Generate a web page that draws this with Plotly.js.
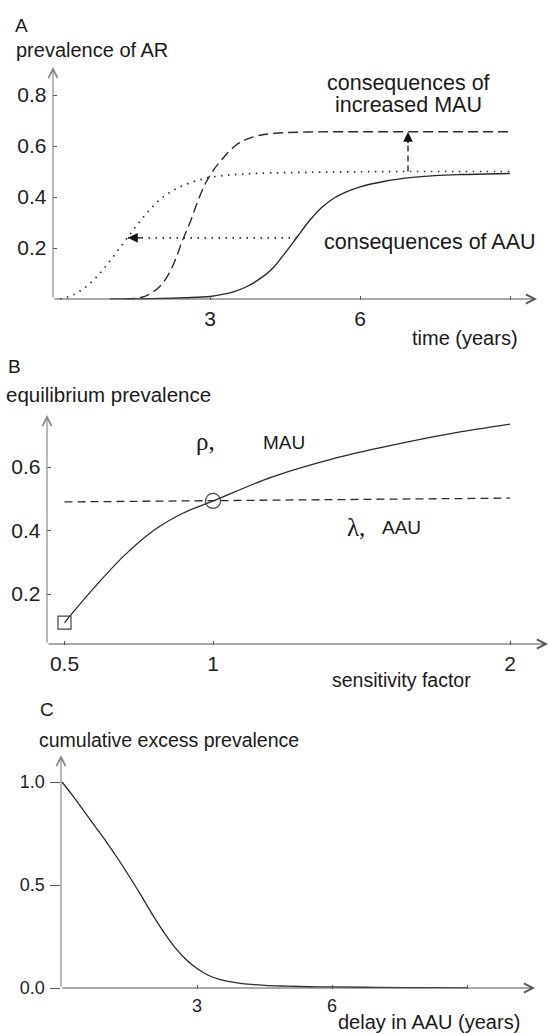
<!DOCTYPE html>
<html><head><meta charset="utf-8">
<script src="https://cdn.plot.ly/plotly-3.0.1.min.js"></script>
<style>html,body{margin:0;padding:0;background:#fff}#chart{width:551px;height:1034px}</style>
</head><body><div id="chart"></div>
<script>
// ---------- Panel A: prevalence of AR over time ----------
const timeSolid  = [1.0, 2.0, 2.5, 3.0, 3.25, 3.5, 3.75, 4.0, 4.25, 4.5, 4.75, 5.0, 5.25, 5.5, 5.75, 6.0, 6.5, 7.0, 7.5, 8.0, 8.5, 9.0];
const prevSolid  = [0.0, 0.002, 0.005, 0.01, 0.018, 0.03, 0.05, 0.08, 0.12, 0.18, 0.245, 0.31, 0.362, 0.398, 0.422, 0.44, 0.462, 0.476, 0.484, 0.488, 0.49, 0.492];
const timeDashed = [1.3, 1.6, 1.8, 2.0, 2.15, 2.3, 2.45, 2.6, 2.75, 2.9, 3.05, 3.25, 3.5, 3.75, 4.0, 4.3, 5.0, 6.0, 7.0, 8.0, 9.0];
const prevDashed = [0.0, 0.005, 0.02, 0.05, 0.09, 0.15, 0.23, 0.30, 0.38, 0.45, 0.50, 0.55, 0.60, 0.628, 0.642, 0.65, 0.655, 0.656, 0.656, 0.656, 0.656];
const timeDotted = [0, 0.25, 0.5, 0.75, 1.0, 1.25, 1.5, 1.75, 2.0, 2.25, 2.5, 2.75, 3.0, 3.5, 4.0, 5.0, 6.0, 7.0, 8.0, 9.0];
const prevDotted = [0, 0.015, 0.045, 0.09, 0.15, 0.215, 0.28, 0.34, 0.39, 0.425, 0.448, 0.465, 0.477, 0.488, 0.493, 0.497, 0.499, 0.5, 0.5, 0.5];
const arrowAAUx = [4.74, 1.36];
const arrowAAUy = [0.24, 0.24];
const arrowMAUx = [6.96, 6.96];
const arrowMAUy = [0.5, 0.655];
const ticksAx = [3, 6, 9];
const labelsAx = ['3', '6', ''];
const ticksAy = [0.2, 0.4, 0.6, 0.8];
const labelsAy = ['0.2', '0.4', '0.6', '0.8'];

// ---------- Panel B: equilibrium prevalence vs sensitivity factor ----------
const sensFactor = [0.5, 0.6, 0.7, 0.8, 0.9, 1.0, 1.2, 1.4, 1.6, 1.8, 2.0];
const rhoMAU     = [0.11, 0.22, 0.32, 0.40, 0.455, 0.493, 0.569, 0.625, 0.668, 0.705, 0.735];
const sensLambda = [0.5, 2.0];
const lambdaAAU  = [0.49, 0.502];
const squareX = [0.5];
const squareY = [0.11];
const circleX = [1.0];
const circleY = [0.493];
const ticksBx = [0.5, 1, 2];
const labelsBx = ['0.5', '1', '2'];
const ticksBy = [0.2, 0.4, 0.6];
const labelsBy = ['0.2', '0.4', '0.6'];

// ---------- Panel C: cumulative excess prevalence vs delay ----------
const delayAAU = [0, 0.25, 0.5, 0.75, 1.0, 1.25, 1.5, 1.75, 2.0, 2.25, 2.5, 2.75, 3.0, 3.25, 3.5, 3.75, 4.0, 4.5, 5.0, 5.5, 6.0, 7.0, 8.0, 9.0];
const cumExcess = [1.0, 0.93, 0.855, 0.78, 0.705, 0.625, 0.54, 0.452, 0.36, 0.275, 0.20, 0.14, 0.095, 0.062, 0.042, 0.03, 0.021, 0.013, 0.009, 0.006, 0.005, 0.003, 0.002, 0.001];
const ticksCx = [3, 6, 9];
const labelsCx = ['3', '6', ''];
const ticksCy = [0, 0.5, 1.0];
const labelsCy = ['0.0', '0.5', '1.0'];

// ---------- geometry helpers (pixel layout) ----------
const W = 551, H = 1034;
const PX = v => v / W;
const PY = v => 1 - v / H;
const FONT = 'Liberation Sans, Arial, sans-serif';
const INK = '#2b2b2b';
const AXC = '#555';
const AXY = '#8a8a8a';

const G = {
  A: {left: 52.5, right: 551, top: 55, bottom: 299.5, x0: 60, xv0: 0, xs: 50, y0: 299, ys: 255},
  B: {left: 46.5, right: 551, top: 400, bottom: 644.5, x0: 64.5, xv0: 0.5, xs: 297, y0: 657.5, ys: 317.5},
  C: {left: 60.5, right: 551, top: 740, bottom: 988.5, x0: 62, xv0: 0, xs: 45, y0: 988, ys: 206}
};
function xr(g) { return [g.xv0 + (g.left - g.x0) / g.xs, g.xv0 + (g.right - g.x0) / g.xs]; }
function yr(g) { return [(g.y0 - g.bottom) / g.ys, (g.y0 - g.top) / g.ys]; }
function xv(g, p) { return g.xv0 + (p - g.x0) / g.xs; }
function yv(g, p) { return (g.y0 - p) / g.ys; }

function xaxisDef(g, anchor, tv, tt, size) {
  return {domain: [PX(g.left), 1], range: xr(g), anchor: anchor, showgrid: false, zeroline: false,
    showline: false, tickmode: 'array', tickvals: tv, ticktext: tt, ticks: 'inside', ticklen: 4,
    tickwidth: 1, tickcolor: AXC, tickfont: {family: FONT, size: size, color: '#222'},
    ticklabelstandoff: 4, fixedrange: true};
}
function yaxisDef(g, anchor, tv, tt, size, tickDir, tlen) {
  return {domain: [PY(g.bottom), PY(g.top)], range: yr(g), anchor: anchor, showgrid: false, zeroline: false,
    showline: false, tickmode: 'array', tickvals: tv, ticktext: tt, ticks: tickDir, ticklen: tlen,
    tickwidth: 1, tickcolor: AXC, tickfont: {family: FONT, size: size, color: '#222'},
    ticklabelstandoff: tickDir === 'inside' ? 5 : 1, fixedrange: true};
}

const traces = [
  // A
  {x: timeDotted, y: prevDotted, xaxis: 'x', yaxis: 'y', mode: 'lines', line: {color: INK, width: 1.7, dash: '1.5px,5.5px', shape: 'spline'}},
  {x: timeDashed, y: prevDashed, xaxis: 'x', yaxis: 'y', mode: 'lines', line: {color: INK, width: 1.4, dash: '10px,5px', shape: 'spline'}},
  {x: timeSolid, y: prevSolid, xaxis: 'x', yaxis: 'y', mode: 'lines', line: {color: INK, width: 1.4, shape: 'spline'}},
  {x: arrowAAUx, y: arrowAAUy, xaxis: 'x', yaxis: 'y', mode: 'lines', line: {color: INK, width: 1.7, dash: '1.5px,5.5px'}},
  {x: arrowMAUx, y: arrowMAUy, xaxis: 'x', yaxis: 'y', mode: 'lines', line: {color: INK, width: 1.4, dash: '6px,4px'}},
  // B
  {x: sensLambda, y: lambdaAAU, xaxis: 'x2', yaxis: 'y2', mode: 'lines', line: {color: INK, width: 1.3, dash: '8px,5px'}},
  {x: sensFactor, y: rhoMAU, xaxis: 'x2', yaxis: 'y2', mode: 'lines', line: {color: INK, width: 1.3, shape: 'spline'}},
  {x: squareX, y: squareY, xaxis: 'x2', yaxis: 'y2', mode: 'markers', cliponaxis: false, marker: {symbol: 'square-open', size: 13, color: '#444', line: {width: 1.2}}},
  {x: circleX, y: circleY, xaxis: 'x2', yaxis: 'y2', mode: 'markers', cliponaxis: false, marker: {symbol: 'circle-open', size: 15, color: '#444', line: {width: 1.2}}},
  // C
  {x: delayAAU, y: cumExcess, xaxis: 'x3', yaxis: 'y3', mode: 'lines', line: {color: INK, width: 1.3, shape: 'spline'}}
];

function axisArrow(xref, yref, x, y, ax, ay, color) {
  return {xref: xref, yref: yref, axref: xref, ayref: yref, x: x, y: y, ax: ax, ay: ay, text: '',
    showarrow: true, arrowhead: 5, arrowsize: 1.5, arrowwidth: 1.2, arrowcolor: color, standoff: 0, startstandoff: 0};
}
function headArrow(xref, yref, x, y, ax, ay) {
  return {xref: xref, yref: yref, axref: xref, ayref: yref, x: x, y: y, ax: ax, ay: ay, text: '',
    showarrow: true, arrowhead: 2, arrowsize: 1.5, arrowwidth: 1.3, arrowcolor: '#111', standoff: 0};
}
function label(text, x, y, size, extra) {
  return Object.assign({xref: 'paper', yref: 'paper', x: PX(x), y: PY(y), xanchor: 'left', yanchor: 'middle',
    text: text, showarrow: false, borderpad: 0, font: {family: FONT, size: size, color: '#1a1a1a'}}, extra || {});
}

const A = G.A, B = G.B, C = G.C;
const annotations = [
  axisArrow('x', 'y', xv(A, 53), yv(A, 67), xv(A, 53), 0, AXY),
  axisArrow('x', 'y', xv(A, 537), 0, xv(A, 53), 0, AXC),
  axisArrow('x2', 'y2', xv(B, 47), yv(B, 415), xv(B, 47), yv(B, 644), AXY),
  axisArrow('x2', 'y2', xv(B, 548), yv(B, 644), xv(B, 47), yv(B, 644), AXC),
  axisArrow('x3', 'y3', xv(C, 61), yv(C, 755), xv(C, 61), 0, AXY),
  axisArrow('x3', 'y3', xv(C, 535), 0, xv(C, 61), 0, AXC),
  headArrow('x', 'y', arrowAAUx[1], arrowAAUy[1], arrowAAUx[1] + 0.3, arrowAAUy[1]),
  headArrow('x', 'y', arrowMAUx[1], arrowMAUy[1], arrowMAUx[1], arrowMAUy[1] - 0.05),
  label('A', 14, 25, 19),
  label('prevalence of AR', 15, 50, 20),
  label('consequences of', 408, 83, 21.5, {xanchor: 'center'}),
  label('increased MAU', 408, 105, 21.5, {xanchor: 'center'}),
  label('consequences of AAU', 323, 242, 21.5),
  label('time (years)', 411, 338, 20),
  label('B', 7, 366, 19),
  label('equilibrium prevalence', 5, 395, 20.5),
  label('ρ,', 195, 441, 25, {font: {family: 'Liberation Serif, DejaVu Serif, serif', size: 25, color: '#1a1a1a'}}),
  label('MAU', 262, 442, 19),
  label('λ,', 346, 527, 25, {font: {family: 'Liberation Serif, DejaVu Serif, serif', size: 25, color: '#1a1a1a'}}),
  label('AAU', 381, 527, 19),
  label('sensitivity factor', 331, 680, 19.5),
  label('C', 39, 709, 19),
  label('cumulative excess prevalence', 38, 740, 19.5),
  label('delay in AAU (years)', 337, 1022, 20)
];

const layout = {
  width: W, height: H, margin: {l: 0, r: 0, t: 0, b: 0}, paper_bgcolor: '#fff', plot_bgcolor: 'rgba(0,0,0,0)',
  showlegend: false, hovermode: false,
  xaxis: xaxisDef(A, 'y', ticksAx, labelsAx, 21),
  yaxis: yaxisDef(A, 'x', ticksAy, labelsAy, 21, 'inside', 4),
  xaxis2: xaxisDef(B, 'y2', ticksBx, labelsBx, 21),
  yaxis2: yaxisDef(B, 'x2', ticksBy, labelsBy, 21, 'inside', 4),
  xaxis3: xaxisDef(C, 'y3', ticksCx, labelsCx, 18),
  yaxis3: yaxisDef(C, 'x3', ticksCy, labelsCy, 18, 'outside', 10),
  annotations: annotations
};

Plotly.newPlot('chart', traces, layout, {staticPlot: true, displayModeBar: false});
</script>
</body></html>
